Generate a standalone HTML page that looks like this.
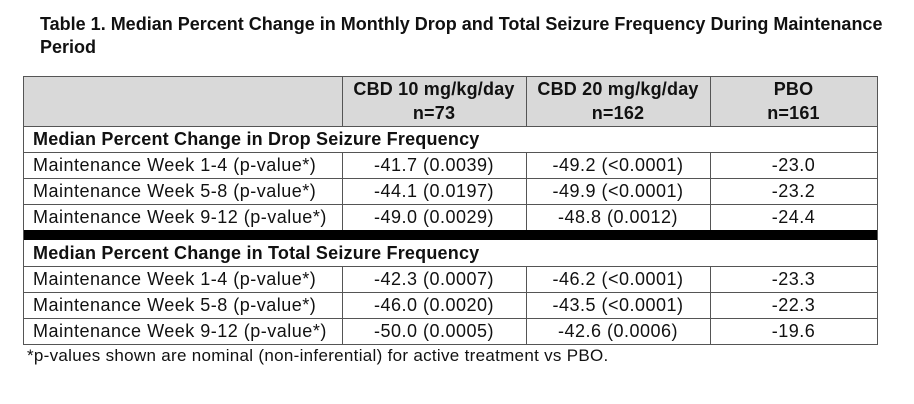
<!DOCTYPE html>
<html><head><style>
body{margin:0;width:914px;height:404px;background:#fff;font-family:"Liberation Sans",sans-serif;color:#111;position:relative;overflow:hidden}
.t{position:absolute;left:40px;top:13px;font-weight:bold;font-size:18px;line-height:23px;white-space:nowrap}
.c{position:absolute;font-size:18px;letter-spacing:0.5px;white-space:nowrap;line-height:26px}
.b{font-weight:bold;letter-spacing:0.2px}
.hl{position:absolute;height:1px;background:#555;left:23px;width:854px}
.vl{position:absolute;width:1px;background:#555}
</style></head><body>
<div class="t">Table 1. Median Percent Change in Monthly Drop and Total Seizure Frequency During Maintenance<br>Period</div>
<div style="position:absolute;left:23px;top:76px;width:854px;height:50px;background:#d9d9d9"></div>
<div style="position:absolute;left:23px;top:230px;width:854px;height:10px;background:#000"></div>
<div class="hl" style="top:76px"></div><div class="hl" style="top:126px"></div>
<div class="hl" style="top:152px"></div><div class="hl" style="top:178px"></div>
<div class="hl" style="top:204px"></div>
<div class="hl" style="top:266px"></div><div class="hl" style="top:292px"></div>
<div class="hl" style="top:318px"></div><div class="hl" style="top:344px"></div>
<div class="vl" style="left:23px;top:76px;height:269px"></div>
<div class="vl" style="left:877px;top:76px;height:269px"></div>
<div class="vl" style="left:342px;top:76px;height:50px"></div>
<div class="vl" style="left:526px;top:76px;height:50px"></div>
<div class="vl" style="left:710px;top:76px;height:50px"></div>
<div class="vl" style="left:342px;top:152px;height:78px"></div>
<div class="vl" style="left:526px;top:152px;height:78px"></div>
<div class="vl" style="left:710px;top:152px;height:78px"></div>
<div class="vl" style="left:342px;top:266px;height:78px"></div>
<div class="vl" style="left:526px;top:266px;height:78px"></div>
<div class="vl" style="left:710px;top:266px;height:78px"></div>
<div class="c b" style="left:342px;top:77px;width:184px;text-align:center;line-height:24px">CBD 10 mg/kg/day<br>n=73</div>
<div class="c b" style="left:526px;top:77px;width:184px;text-align:center;line-height:24px">CBD 20 mg/kg/day<br>n=162</div>
<div class="c b" style="left:710px;top:77px;width:167px;text-align:center;line-height:24px">PBO<br>n=161</div>
<div class="c b" style="left:33px;top:126px">Median Percent Change in Drop Seizure Frequency</div>
<div class="c b" style="left:33px;top:240px">Median Percent Change in Total Seizure Frequency</div>
<div class="c" style="left:33px;top:152px">Maintenance Week 1-4 (p-value*)</div>
<div class="c" style="left:33px;top:178px">Maintenance Week 5-8 (p-value*)</div>
<div class="c" style="left:33px;top:204px">Maintenance Week 9-12 (p-value*)</div>
<div class="c" style="left:33px;top:266px">Maintenance Week 1-4 (p-value*)</div>
<div class="c" style="left:33px;top:292px">Maintenance Week 5-8 (p-value*)</div>
<div class="c" style="left:33px;top:318px">Maintenance Week 9-12 (p-value*)</div>
<div class="c" style="left:342px;top:152px;width:184px;text-align:center">-41.7 (0.0039)<br>-44.1 (0.0197)<br>-49.0 (0.0029)</div>
<div class="c" style="left:526px;top:152px;width:184px;text-align:center">-49.2 (&lt;0.0001)<br>-49.9 (&lt;0.0001)<br>-48.8 (0.0012)</div>
<div class="c" style="left:710px;top:152px;width:167px;text-align:center">-23.0<br>-23.2<br>-24.4</div>
<div class="c" style="left:342px;top:266px;width:184px;text-align:center">-42.3 (0.0007)<br>-46.0 (0.0020)<br>-50.0 (0.0005)</div>
<div class="c" style="left:526px;top:266px;width:184px;text-align:center">-46.2 (&lt;0.0001)<br>-43.5 (&lt;0.0001)<br>-42.6 (0.0006)</div>
<div class="c" style="left:710px;top:266px;width:167px;text-align:center">-23.3<br>-22.3<br>-19.6</div>
<div class="c" style="left:27px;top:343px;font-size:17px;letter-spacing:0.3px">*p-values shown are nominal (non-inferential) for active treatment vs PBO.</div>
</body></html>
